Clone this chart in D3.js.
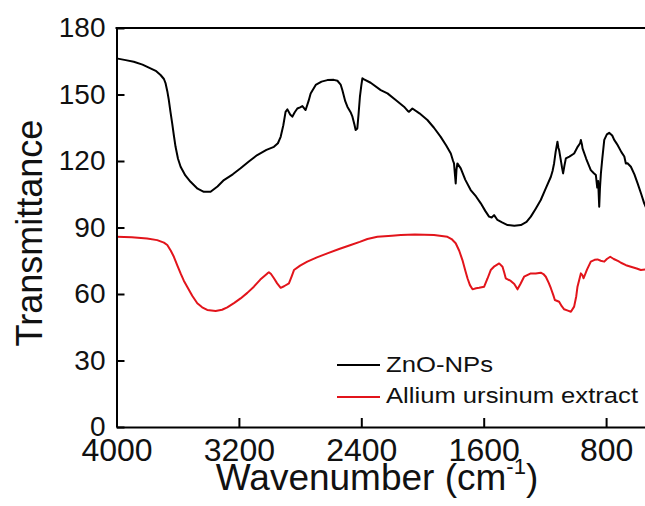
<!DOCTYPE html>
<html>
<head>
<meta charset="utf-8">
<script src="https://cdn.jsdelivr.net/npm/d3@7/dist/d3.min.js"></script>
<style>
  html, body { margin: 0; padding: 0; background: #fff; }
  svg { display: block; font-family: "Liberation Sans", Arial, sans-serif; }
</style>
</head>
<body>
<svg id="chart" width="645" height="506"></svg>
<script>
// ---- data ----
const xTicks = [4000, 3200, 2400, 1600, 800];
const yTicks = [0, 30, 60, 90, 120, 150, 180];
const seriesNames = ["ZnO-NPs", "Allium ursinum extract"];
const seriesColors = ["#000000", "#e2141b"];

const znoWavenumber = [4000,3940,3887,3830,3778,3740,3712,3690,3679,3668,3658,3647,3636,3625,3614,3598,3581,3550,3516,3470,3429,3385,3340,3298,3240,3189,3135,3080,3020,2971,2945,2927,2910,2895,2883,2865,2851,2835,2818,2800,2785,2764,2745,2731,2698,2660,2622,2580,2556,2535,2524,2505,2491,2470,2458,2445,2437,2426,2418,2409,2400,2393,2382,2339,2273,2229,2175,2121,2095,2088,2066,2020,1968,1925,1881,1845,1815,1800,1794,1788,1783,1778,1772,1750,1720,1685,1650,1619,1590,1565,1548,1532,1510,1480,1444,1400,1357,1320,1292,1260,1227,1195,1161,1150,1140,1130,1118,1112,1107,1096,1088,1081,1072,1063,1040,1009,985,970,965,958,954,930,900,880,867,858,852,845,840,834,825,812,795,780,760,747,735,725,700,681,671,660,638,615,594,570,551,520,500];
const znoTransmittance = [166.3,165.5,164.8,163.5,161.8,160.5,158.8,157,155,151.5,147.5,142,137,131.5,126.4,121,117.4,113.5,110.6,107.5,106.1,106.1,108.5,111.4,114,116.7,119.8,122.7,125,126.4,128,130.9,136,142.2,143.3,141,140,142,143.7,144.2,144.8,143,147,150.5,154.3,155.8,156.5,156.6,156.2,154.5,152,147,144.5,142,140,136.5,134,134.7,141,149,154,157.3,156.8,155.3,152,150.5,147.5,144.5,142.5,142.2,143.7,141.5,138.5,135,130.9,127,123.4,120,118.9,114,109.9,116,118.9,116.7,111.5,106.9,104,100.9,97.5,94.9,94.5,95.6,93.4,92.3,91.1,90.8,91.1,92.5,94.9,98.5,102.4,107.5,112.9,115.5,118.9,124,128.7,126,124.9,120.4,117,114.4,118,121.2,122,123.4,126.5,128,129.5,127.5,125.7,121,115.9,114.5,113.7,108,111,99.4,108,114.4,121,129.5,132,132.7,131.5,129.5,128.3,127.2,124,122,118.9,119,117.4,114,109.9,105,100.9,96,93];

const alliumWavenumber = [4000,3900,3800,3734,3690,3668,3645,3625,3600,3581,3560,3538,3505,3472,3440,3407,3352,3310,3276,3230,3189,3145,3102,3060,3014,3004,2990,2971,2950,2927,2905,2873,2855,2840,2800,2753,2690,2622,2545,2469,2410,2360,2295,2200,2142,2050,1925,1837,1810,1783,1760,1739,1720,1706,1690,1673,1650,1630,1597,1575,1554,1530,1499,1477,1465,1456,1423,1400,1379,1360,1336,1292,1260,1227,1210,1194,1175,1161,1145,1135,1107,1090,1074,1050,1030,1009,995,987,975,965,955,947,925,900,875,856,835,812,795,773,750,720,703,670,638,600,573,540,500];
const alliumTransmittance = [85.8,85.6,85,84.3,83.2,82.1,79.5,76.8,72.5,69.3,66,63.3,59.2,55.8,54,52.8,52.3,52.9,54,56,58,60.5,63.3,66.5,69.3,69.8,69,67.1,64.8,62.8,63.5,64.8,68,70.8,72.8,74.6,76.5,78.3,80.3,82.1,83.5,84.8,85.8,86.3,86.6,86.8,86.6,85.8,84.8,82.9,79.5,75.3,70.5,67.1,64,62.1,62.6,62.8,63.3,67,70.8,72.5,73.8,72.3,69.5,67.1,65.9,64.5,62.1,64.5,67.8,69.3,69.2,69.6,69,67.8,65,62.6,59.5,57.3,56.5,54.5,53.1,52.5,52,54.3,59,63.3,66.5,69.3,68.5,67.1,71,74.6,75.4,75.6,75,74.6,75.8,76.8,75.8,74.8,74.1,73,72.3,71.5,70.8,71.1,71.2];

// ---- layout ----
const svg = d3.select("#chart");
const plotLeft = 116.5, plotBottom = 427, plotTop = 28;
const x = d3.scaleLinear().domain([4000, 400]).range([plotLeft, plotLeft + 3600 * 122.4 / 800]);
const y = d3.scaleLinear().domain([0, 180]).range([plotBottom, plotTop]);

svg.append("rect").attr("width", 645).attr("height", 506).attr("fill", "#fff");

svg.append("clipPath").attr("id", "plotclip")
  .append("rect").attr("x", plotLeft).attr("y", plotTop).attr("width", x(400) - plotLeft).attr("height", plotBottom - plotTop);

// curves
const line = d3.line().x(d => x(d[0])).y(d => y(d[1]));
const znoData = znoWavenumber.map((w, i) => [w, znoTransmittance[i]]);
const alliumData = alliumWavenumber.map((w, i) => [w, alliumTransmittance[i]]);
const g = svg.append("g").attr("clip-path", "url(#plotclip)");
g.append("path").datum(znoData).attr("d", line)
  .attr("fill", "none").attr("stroke", seriesColors[0]).attr("stroke-width", 2).attr("stroke-linejoin", "round");
g.append("path").datum(alliumData).attr("d", line)
  .attr("fill", "none").attr("stroke", seriesColors[1]).attr("stroke-width", 2).attr("stroke-linejoin", "round");

// axes
const xAxis = d3.axisBottom(x).tickValues(xTicks).tickFormat(d3.format("d"))
  .tickSizeInner(-9).tickSizeOuter(0).tickPadding(11);
const gx = svg.append("g").attr("transform", `translate(0,${plotBottom})`).call(xAxis);
gx.select(".domain").attr("stroke", "#000").attr("stroke-width", 2);
gx.selectAll(".tick line").attr("stroke", "#000").attr("stroke-width", 2);
gx.selectAll(".tick text").attr("font-size", 32).attr("fill", "#111")
  .attr("font-family", "Liberation Sans, Arial, sans-serif");

const yAxis = d3.axisLeft(y).tickValues(yTicks).tickFormat(d3.format("d"))
  .tickSizeInner(-8).tickSizeOuter(0).tickPadding(11);
const gy = svg.append("g").attr("transform", `translate(${plotLeft},0)`).call(yAxis);
gy.select(".domain").attr("stroke", "#000").attr("stroke-width", 2);
gy.selectAll(".tick line").attr("stroke", "#000").attr("stroke-width", 2);
gy.selectAll(".tick text").attr("font-size", 28).attr("fill", "#111")
  .attr("font-family", "Liberation Sans, Arial, sans-serif");

// top frame line
svg.append("line").attr("x1", plotLeft - 1).attr("x2", 645).attr("y1", y(180)).attr("y2", y(180))
  .attr("stroke", "#000").attr("stroke-width", 2);

// axis titles
svg.append("text").attr("transform", "translate(42,233) rotate(-90)")
  .attr("text-anchor", "middle").attr("font-size", 36).attr("fill", "#111").text("Transmittance");

const xt = svg.append("text").attr("x", 377).attr("y", 490).attr("text-anchor", "middle")
  .attr("font-size", 37).attr("fill", "#111");
xt.append("tspan").text("Wavenumber (cm");
xt.append("tspan").attr("font-size", 22).attr("dy", -16).text("-1");
xt.append("tspan").attr("dy", 16).text(")");

// legend
const legendY = [365, 397];
const legendBase = [372, 403];
const legendLen = [107, 252];
seriesNames.forEach((name, i) => {
  svg.append("line").attr("x1", 337).attr("x2", 380).attr("y1", legendY[i]).attr("y2", legendY[i])
    .attr("stroke", seriesColors[i]).attr("stroke-width", 2);
  svg.append("text").attr("x", 386).attr("y", legendBase[i]).attr("font-size", 22.5)
    .attr("fill", "#111").attr("textLength", legendLen[i]).attr("lengthAdjust", "spacingAndGlyphs")
    .text(name);
});
</script>
</body>
</html>
